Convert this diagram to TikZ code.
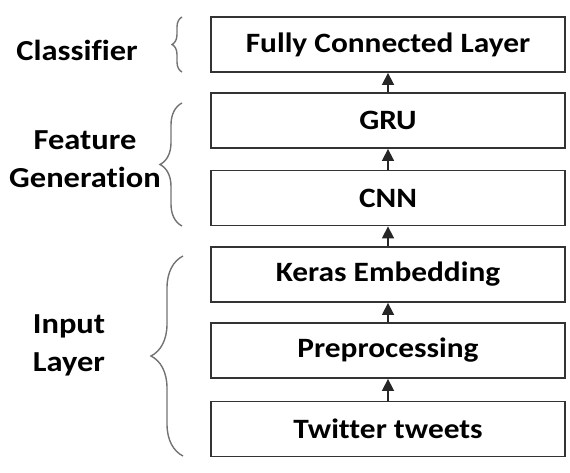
\documentclass[tikz,border=0pt]{standalone}
\usepackage{fontspec}
\setmainfont{Carlito}[FakeStretch=1.12, Ligatures=NoCommon]
\usetikzlibrary{arrows.meta,decorations.pathreplacing}

\tikzset{
  layerbox/.style={draw=black!80, line width=1.8pt, minimum width=354pt, minimum height=55pt,
    inner sep=0pt, font=\bfseries\fontsize{28}{32}\selectfont},
  grouplabel/.style={font=\bfseries\fontsize{29}{38}\selectfont, inner sep=0pt},
  flowarrow/.style={line width=1.6pt, black!85, -{Triangle[length=12pt,width=12pt]}},
  groupbrace/.style={draw=black!55, line width=1.4pt, decorate}
}

\begin{document}
\begin{tikzpicture}[x=1pt, y=1pt]
                \useasboundingbox (0,0) rectangle (570,-472);
                % layers, bottom to top
                \node[layerbox] (tweets) at (388,-429) {Twitter tweets};
                \node[layerbox] (prep) at (388,-350.5) {Preprocessing};
                \node[layerbox] (embed) at (388,-274.5) {Keras Embedding};
                \node[layerbox] (cnn) at (388,-198) {CNN};
                \node[layerbox] (gru) at (388,-120.5) {GRU};
                \node[layerbox] (fcl) at (388,-44.5) {Fully Connected Layer};
                \draw[flowarrow] (tweets) -- (prep);
                \draw[flowarrow] (prep) -- (embed);
                \draw[flowarrow] (embed) -- (cnn);
                \draw[flowarrow] (cnn) -- (gru);
                \draw[flowarrow] (gru) -- (fcl);
                % groups
                \draw[groupbrace, decoration={brace, amplitude=10pt}] (182,-72) -- (182,-17);
                \draw[groupbrace, decoration={brace, amplitude=22pt}] (182,-226) -- (182,-103);
                \draw[groupbrace, decoration={brace, amplitude=32pt}] (183,-456) -- (183,-256);
                \node[grouplabel] (cls) at (77,-50) {Classifier};
                \node[grouplabel, align=center] (feat) at (85,-159) {Feature\\Generation};
                \node[grouplabel, align=left] (inp) at (69,-345) {Input\\Layer};
            \end{tikzpicture}
\end{document}
